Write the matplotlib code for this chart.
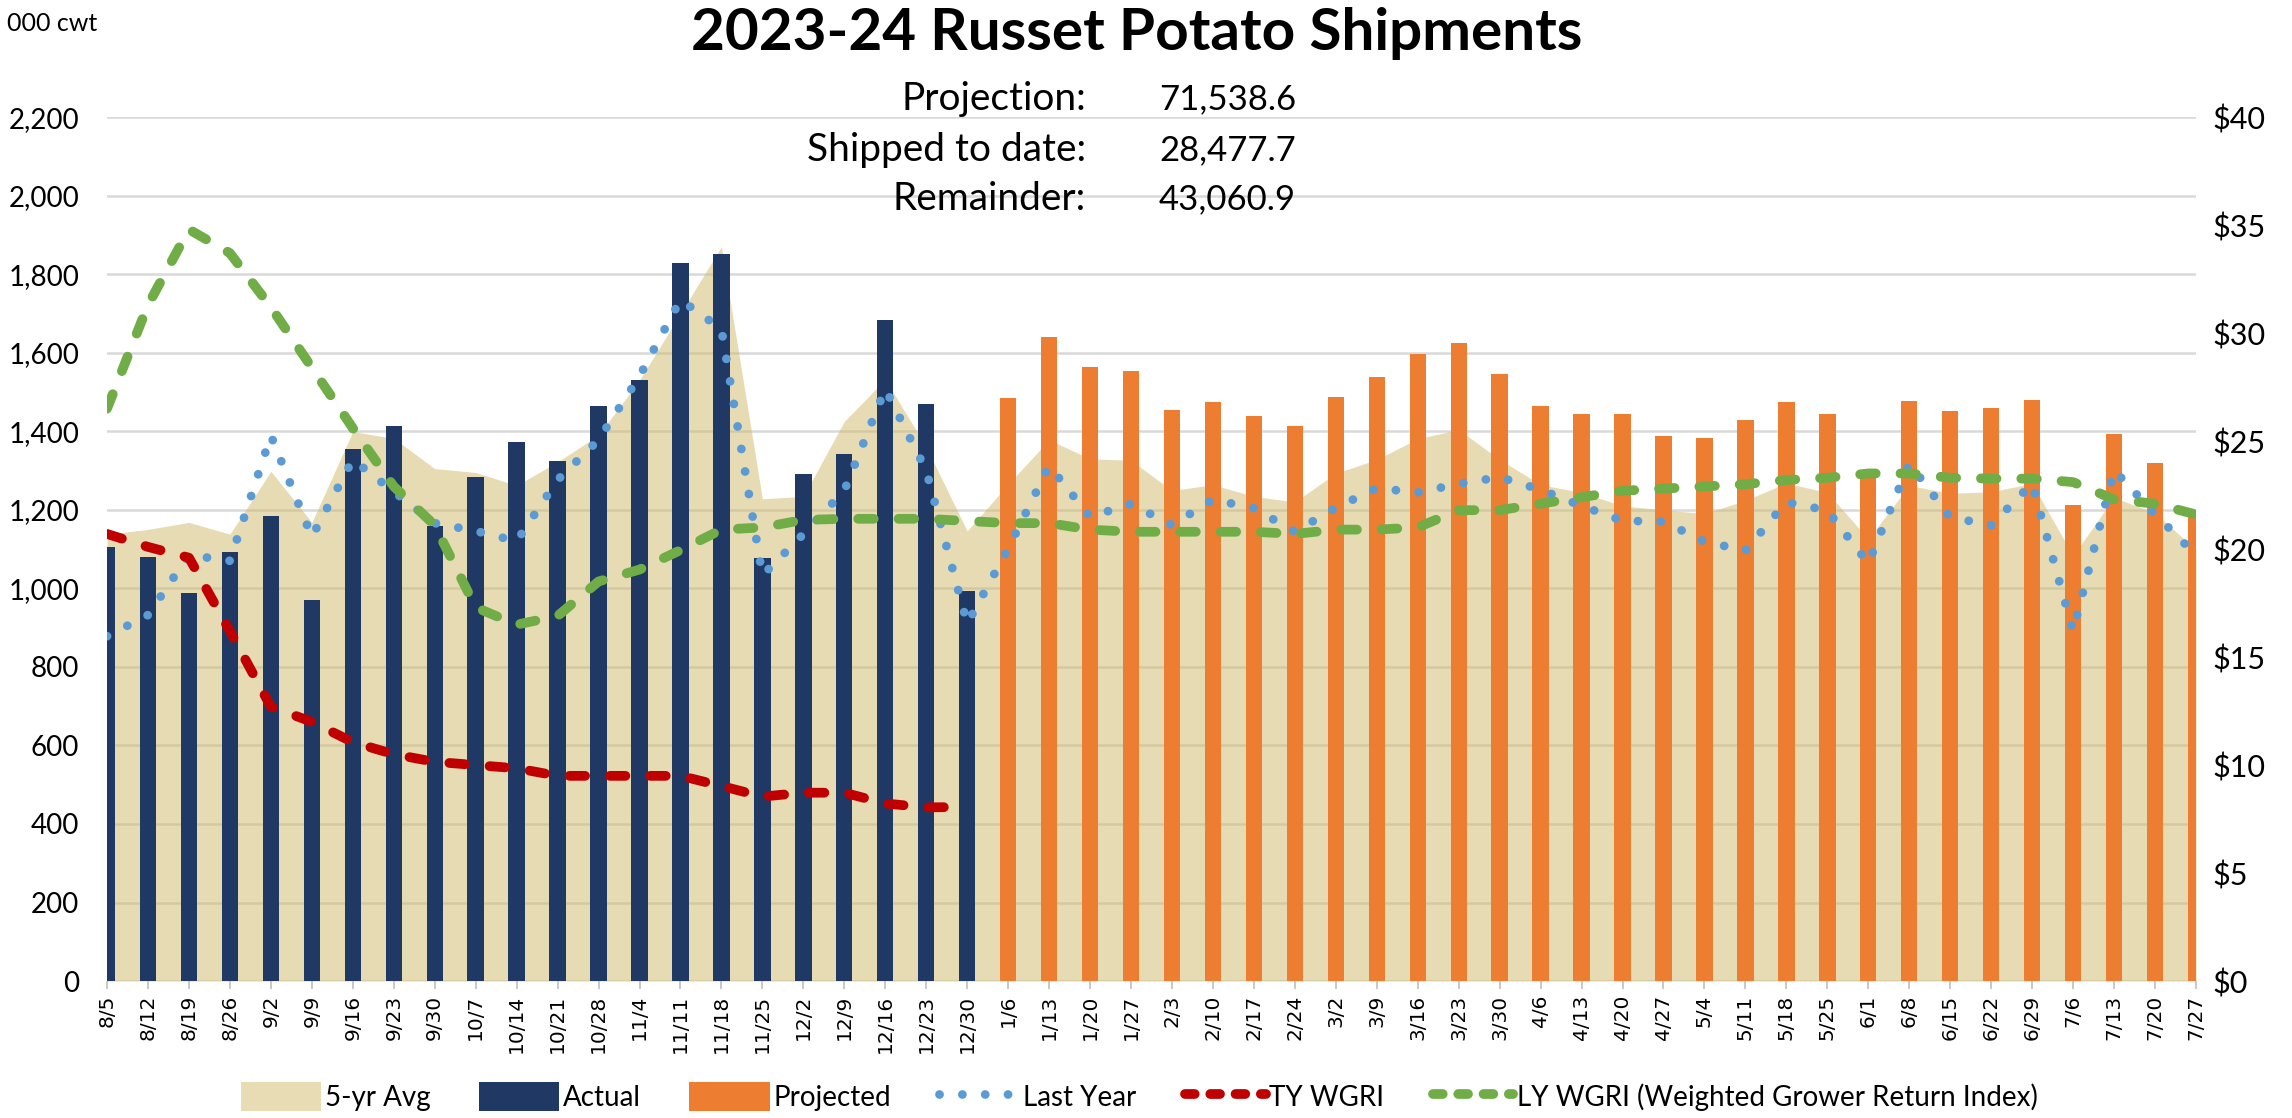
import matplotlib
matplotlib.use("Agg")
import matplotlib.pyplot as plt
import numpy as np
from matplotlib.patches import Patch
from matplotlib.lines import Line2D
from matplotlib.ticker import FuncFormatter, MultipleLocator

# ---------------- data ----------------
weeks = ['8/5', '8/12', '8/19', '8/26', '9/2', '9/9', '9/16', '9/23', '9/30', '10/7',
         '10/14', '10/21', '10/28', '11/4', '11/11', '11/18', '11/25', '12/2', '12/9',
         '12/16', '12/23', '12/30', '1/6', '1/13', '1/20', '1/27', '2/3', '2/10', '2/17',
         '2/24', '3/2', '3/9', '3/16', '3/23', '3/30', '4/6', '4/13', '4/20', '4/27',
         '5/4', '5/11', '5/18', '5/25', '6/1', '6/8', '6/15', '6/22', '6/29', '7/6',
         '7/13', '7/20', '7/27']

five_yr_avg = [1138, 1150, 1168, 1138, 1298, 1168, 1399, 1382, 1305, 1295, 1262, 1322,
               1390, 1530, 1700, 1870, 1228, 1234, 1425, 1532, 1360, 1146,
               1265, 1378, 1330, 1326, 1249, 1264, 1234, 1220, 1293, 1328, 1381, 1404,
               1328, 1264, 1244, 1210, 1200, 1190, 1224, 1268, 1244, 1126, 1262, 1242,
               1246, 1267, 1083, 1231, 1192, 1098]

actual = [1105, 1081, 988, 1092, 1183, 969, 1354, 1413, 1159, 1283, 1373, 1323, 1465,
          1530, 1829, 1852, 1076, 1292, 1342, 1682, 1469, 994]

projected = [1485, 1641, 1563, 1553, 1453, 1474, 1440, 1414, 1488, 1537, 1596, 1625,
             1545, 1465, 1443, 1443, 1389, 1383, 1428, 1474, 1445, 1290, 1477, 1452,
             1460, 1480, 1211, 1394, 1318, 1184]

last_year = [878, 932, 1085, 1070, 1389, 1131, 1328, 1246, 1166, 1146, 1120, 1276, 1378,
             1540, 1735, 1660, 1033, 1138, 1249, 1508, 1300, 910,
             1101, 1312, 1182, 1215, 1161, 1226, 1204, 1144, 1205, 1255, 1244, 1266,
             1283, 1251, 1210, 1172, 1170, 1119, 1096, 1220, 1198, 1064, 1318, 1181,
             1161, 1267, 891, 1301, 1189, 1085]

ty_wgri = [20.7, 20.1, 19.6, 16.2, 12.7, 12.0, 11.06, 10.5, 10.15, 10.0, 9.85, 9.5,
           9.5, 9.5, 9.5, 9.03, 8.54, 8.72, 8.72, 8.22, 8.04, 8.06]

ly_wgri = [26.5, 31.3, 34.8, 33.7, 31.2, 28.4, 25.6, 22.9, 21.1, 17.3, 16.5, 16.9, 18.5,
           19.05, 19.95, 20.9, 21.0, 21.35, 21.4, 21.4, 21.4, 21.3,
           21.2, 21.2, 20.9, 20.8, 20.8, 20.8, 20.8, 20.7, 20.9, 20.9, 21.0, 21.8, 21.8,
           22.1, 22.4, 22.7, 22.8, 22.9, 23.0, 23.2, 23.3, 23.5, 23.5, 23.3, 23.26,
           23.26, 23.1, 22.3, 22.1, 21.6]

summary_labels = ['Projection:', 'Shipped to date:', 'Remainder:']
summary_values = ['71,538.6', '28,477.7', '43,060.9']

legend_labels = ['5-yr Avg', 'Actual', 'Projected', 'Last Year', 'TY WGRI',
                 'LY WGRI (Weighted Grower Return Index)']

# ---------------- style ----------------
FONT = ['Lato', 'DejaVu Sans']
plt.rcParams['font.family'] = FONT
C_AREA = '#D1B96B'      # drawn at alpha .5 -> light tan
C_AREA_LEG = '#E8DCB5'
C_ACT = '#203864'
C_PROJ = '#ED7D31'
C_LY = '#5B9BD5'
C_TY = '#C00000'
C_LYW = '#70AD47'
C_GRID = '#D9D9D9'

LY_STYLE = dict(color=C_LY, lw=6.3, ls=(0, (0.01, 2.6)), dash_capstyle='round')
W_LW = 7.0
W_DASH = (0, (1.6, 2.55))

fig = plt.figure(figsize=(22.92, 11.18), dpi=100)
ax = fig.add_axes([0.0467, 0.1225, 0.9114, 0.7728])

n = len(weeks)
x = np.arange(n)
n_act = len(actual)

ax.fill_between(x, five_yr_avg, 0, color=C_AREA, alpha=0.5, lw=0, zorder=1)
ax.bar(x[:n_act], actual, width=0.4, color=C_ACT, zorder=2)
ax.bar(x[n_act:], projected, width=0.4, color=C_PROJ, zorder=2)
ax.plot(x, last_year, zorder=4, **LY_STYLE)

ax.set_xlim(0, n - 1)
ax.set_ylim(0, 2200)
ax.yaxis.set_major_locator(MultipleLocator(200))
ax.yaxis.set_major_formatter(FuncFormatter(lambda v, p: f'{int(v):,}'))
ax.set_axisbelow(True)
ax.yaxis.grid(True, color=C_GRID, lw=1.8)
ax.set_xticks(x)
ax.set_xticklabels(weeks, rotation=90, family='DejaVu Sans', fontsize=14.5)
ax.tick_params(axis='x', length=6, width=1.2, color='#BFBFBF', pad=4)
ax.tick_params(axis='y', length=0, pad=20, labelsize=20)
for s in ax.spines.values():
    s.set_visible(False)

ax2 = ax.twinx()
ax2.set_ylim(0, 40)
ax2.yaxis.set_major_locator(MultipleLocator(5))
ax2.yaxis.set_major_formatter(FuncFormatter(lambda v, p: f'${int(v)}'))
ax2.tick_params(axis='y', length=0, pad=12, labelsize=22)
for s in ax2.spines.values():
    s.set_visible(False)
ax2.plot(x[:len(ty_wgri)], ty_wgri, color=C_TY, lw=W_LW, ls=W_DASH,
         dash_capstyle='round', zorder=5)
ax2.plot(x, ly_wgri, color=C_LYW, lw=W_LW, ls=W_DASH,
         dash_capstyle='round', zorder=5)

# ---------------- texts ----------------
fig.text(0.496, 0.970, '2023-24 Russet Potato Shipments', ha='center', va='center',
         fontsize=42, fontweight='bold')
fig.text(0.003, 0.979, '000 cwt', ha='left', va='center', fontsize=18)
ys = [0.9114, 0.8658, 0.8220]
for lab, val, yy in zip(summary_labels, summary_values, ys):
    fig.text(0.4738, yy, lab, ha='right', va='center', fontsize=28)
    fig.text(0.5057, yy, val, ha='left', va='center', fontsize=25)

# ---------------- legend ----------------
handles = [
    Patch(facecolor=C_AREA_LEG, edgecolor='none'),
    Patch(facecolor=C_ACT, edgecolor='none'),
    Patch(facecolor=C_PROJ, edgecolor='none'),
    Line2D([], [], **LY_STYLE),
    Line2D([], [], color=C_TY, lw=W_LW, ls=(0, (1.0, 1.6)), dash_capstyle='round'),
    Line2D([], [], color=C_LYW, lw=W_LW, ls=(0, (1.0, 1.6)), dash_capstyle='round'),
]
fig.legend(handles, legend_labels, loc='center', bbox_to_anchor=(0.497, 0.019),
           ncol=6, frameon=False, fontsize=20, handlelength=2.9, handleheight=1.25,
           handletextpad=0.12, columnspacing=1.75)

fig.savefig('out.png', dpi=100)
